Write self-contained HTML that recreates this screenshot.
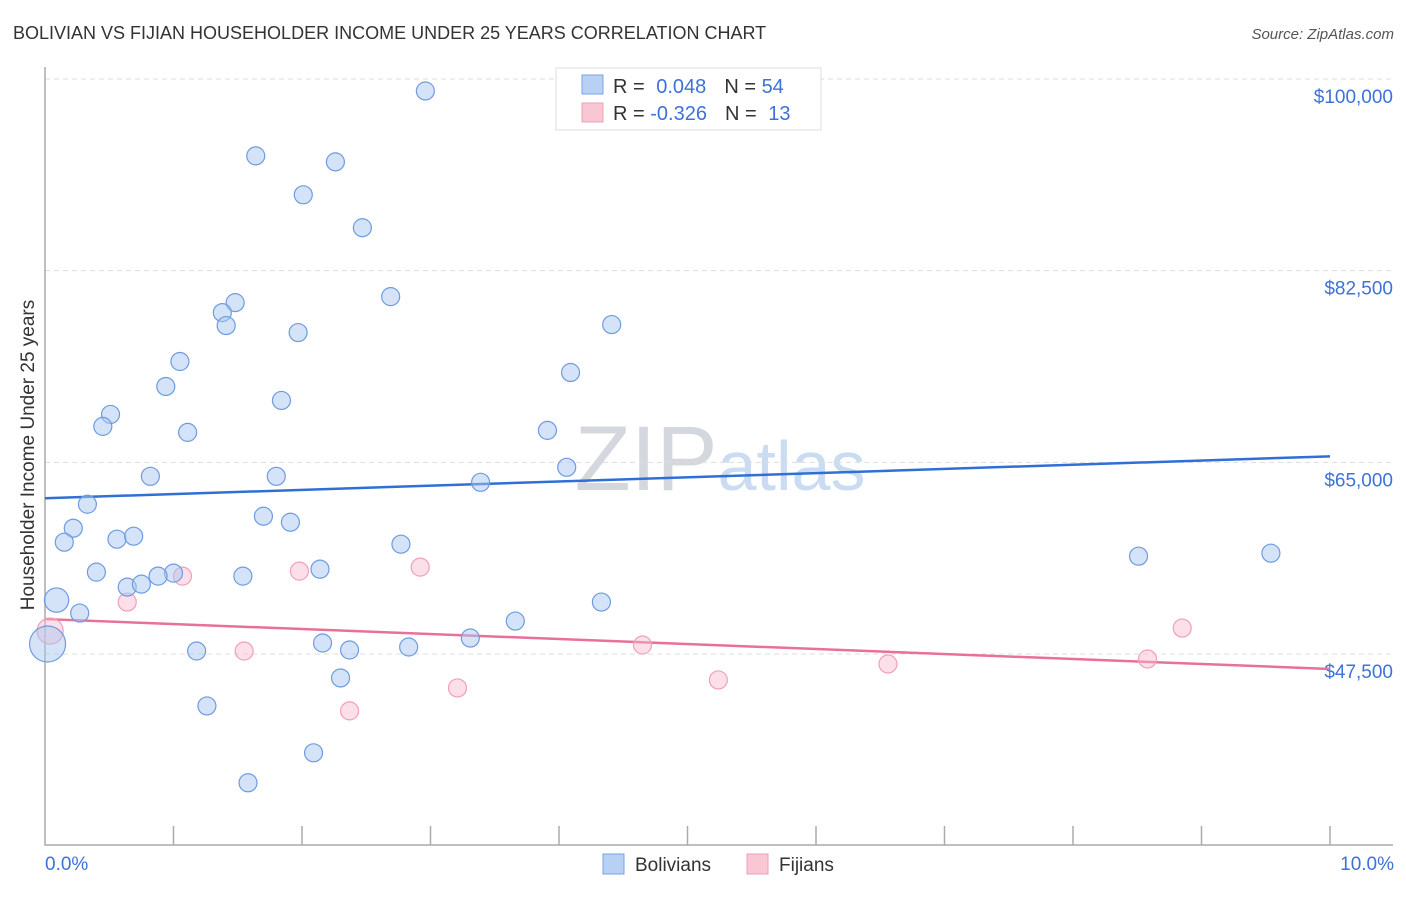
<!DOCTYPE html>
<html><head><meta charset="utf-8"><style>
body{margin:0;background:#fff;font-family:"Liberation Sans",sans-serif}
svg text{font-family:"Liberation Sans",sans-serif}
</style></head><body>
<svg id="chart" width="1406" height="892" xmlns="http://www.w3.org/2000/svg">
<text x="13" y="39" font-size="18" fill="#333">BOLIVIAN VS FIJIAN HOUSEHOLDER INCOME UNDER 25 YEARS CORRELATION CHART</text>
<text x="1394" y="39" font-size="15" fill="#555" font-style="italic" text-anchor="end">Source: ZipAtlas.com</text>
<text x="720" y="490" font-size="92" fill="#dde3ec" text-anchor="middle" font-family="Liberation Serif"><tspan fill="#d4d8de">ZIP</tspan><tspan fill="#c9dcf2" font-family="Liberation Sans" font-size="70">atlas</tspan></text>
<g id="grid"></g>
<g id="axes"></g>
<text transform="translate(34,455) rotate(-90)" font-size="19" fill="#333" text-anchor="middle">Householder Income Under 25 years</text>
<g id="lines"></g>
<g id="points"></g>
<g>
<rect x="556" y="68" width="265" height="62" fill="#fff" stroke="#ddd"/>
<rect x="582" y="75" width="21" height="19" fill="#b8d0f4" stroke="#7aa3e0"/>
<rect x="582" y="103" width="21" height="19" fill="#f9c6d4" stroke="#f0a0b8"/>
<text x="613" y="93" font-size="20" fill="#333">R = <tspan fill="#3d72d8" dx="6">0.048</tspan><tspan fill="#333" dx="18">N = </tspan><tspan fill="#3d72d8">54</tspan></text>
<text x="613" y="120" font-size="20" fill="#333">R = <tspan fill="#3d72d8">-0.326</tspan><tspan fill="#333" dx="18">N = </tspan><tspan fill="#3d72d8" dx="6">13</tspan></text>
</g>
<g>
<rect x="603" y="854" width="21" height="20" fill="#b8d0f4" stroke="#7aa3e0"/>
<text x="635" y="871" font-size="19" fill="#333">Bolivians</text>
<rect x="747" y="854" width="21" height="20" fill="#f9c6d4" stroke="#f0a0b8"/>
<text x="779" y="871" font-size="19" fill="#333">Fijians</text>
</g>
</svg>
<script>
const yTicks=[47500,65000,82500,100000];
const yTickLabels=["$47,500","$65,000","$82,500","$100,000"];
const xTickCount=10;
const xLabels=["0.0%","10.0%"];
const bolX=[2.96,1.64,2.26,2.01,2.47,2.69,1.48,1.38,1.41,1.97,4.41,1.05,4.09,0.94,1.84,0.51,0.45,1.11,3.91,0.82,1.80,4.06,3.39,0.33,1.70,1.91,0.22,0.15,0.56,0.69,2.77,8.51,9.54,0.40,1.00,0.88,1.54,2.14,0.64,0.75,0.09,0.27,4.33,3.66,3.31,2.16,2.37,1.18,2.83,0.02,2.30,1.26,2.09,1.58];
const bolY=[98906,92982,92435,89427,86419,80130,79583,78672,77487,76849,77578,74206,73203,71927,70651,69375,68281,67734,67917,63724,63724,64544,63177,61172,60078,59531,58984,57708,57982,58255,57526,56432,56706,54974,54883,54609,54609,55247,53607,53880,52422,51237,52240,50508,48958,48503,47865,47773,48138,48411,45312,42760,38477,35742];
const bolSize=[1,1,1,1,1,1,1,1,1,1,1,1,1,1,1,1,1,1,1,1,1,1,1,1,1,1,1,1,1,1,1,1,1,1,1,1,1,1,1,1,1.35,1,1,1,1,1,1,1,1,2,1,1,1,1];
const fijX=[0.04,0.64,1.07,1.98,2.92,1.55,3.21,2.37,4.65,5.24,6.56,8.58,8.85];
const fijY=[49596,52240,54609,55065,55430,47773,44401,42305,48320,45130,46589,47044,49870];
const fijSize=[1.45,1,1,1,1,1,1,1,1,1,1,1,1];
const bolTrend=[61719,65547];
const fijTrend=[50690,46133];
const X0=45,X1=1330,Y0=79,Y1=654;
const xs=v=>X0+(X1-X0)*v/10;
const ys=v=>Y0+(Y1-Y0)*(100000-v)/52500;
const NS="http://www.w3.org/2000/svg";
function mk(tag,attrs,parent){const e=document.createElementNS(NS,tag);for(const k in attrs)e.setAttribute(k,attrs[k]);parent.appendChild(e);return e;}
const grid=document.getElementById('grid'),axes=document.getElementById('axes'),lines=document.getElementById('lines'),pts=document.getElementById('points');
yTicks.forEach((t,i)=>{
 const l=mk('line',{x1:45,x2:1393,y1:ys(t),y2:ys(t),stroke:'#ddd','stroke-dasharray':'5,4'},grid);
 
 
 const tx=mk('text',{x:1393,y:ys(t)+24,'font-size':19,fill:'#3d72d8','text-anchor':'end'},axes);
 tx.textContent=yTickLabels[i];
 
 
});
const ax=mk('path',{d:'M45,67 V845 H1393',fill:'none',stroke:'#aaa','stroke-width':1.5},axes);


for(let i=1;i<=xTickCount;i++){
 const t=mk('line',{x1:xs(i),x2:xs(i),y1:826,y2:845,stroke:'#aaa','stroke-width':1.5},axes);
 
 
}
const xl0=mk('text',{x:45,y:870,'font-size':19,fill:'#3d72d8'},axes);xl0.textContent=xLabels[0];


const xl1=mk('text',{x:1394,y:870,'font-size':19,fill:'#3d72d8','text-anchor':'end'},axes);xl1.textContent=xLabels[1];


function drawSeries(X,Y,S,fill,stroke,name){
 X.forEach((x,i)=>{
  const c=mk('circle',{cx:xs(x),cy:ys(Y[i]),r:9*S[i],fill:fill,stroke:stroke,'stroke-width':1.2},pts);
  
  
 });
}
drawSeries(fijX,fijY,fijSize,'rgba(248,185,205,0.45)','#f0a0b8','fijian-point');
drawSeries(bolX,bolY,bolSize,'rgba(170,200,242,0.5)','#6e9be0','bolivian-point');
const bl=mk('line',{x1:xs(0),x2:xs(10),y1:ys(bolTrend[0]),y2:ys(bolTrend[1]),stroke:'#2f6fd6','stroke-width':2.5},lines);


const fl=mk('line',{x1:xs(0),x2:xs(10),y1:ys(fijTrend[0]),y2:ys(fijTrend[1]),stroke:'#e8709a','stroke-width':2.5},lines);


</script>
</body></html>
